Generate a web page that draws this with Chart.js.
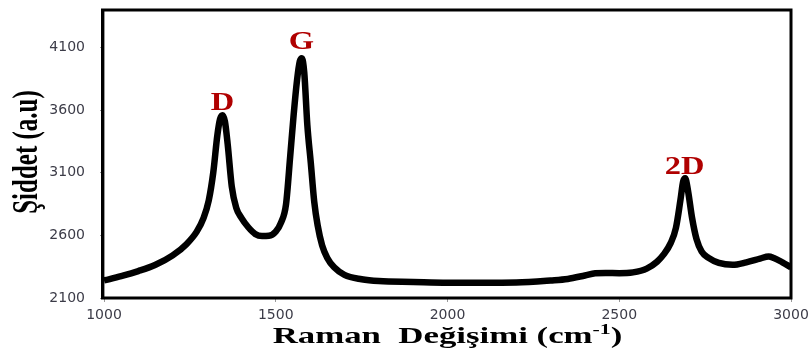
<!DOCTYPE html>
<html>
<head>
<meta charset="utf-8">
<script src="https://cdn.jsdelivr.net/npm/chart.js@4"></script>
<style>
  html, body { margin: 0; padding: 0; background: #fff; }
  #wrap { width: 811px; height: 349px; position: relative; }
</style>
</head>
<body>
<div id="wrap"><canvas id="raman"></canvas></div>
<script>
// Raman spectrum
const shift = [1000, 1050, 1100, 1150, 1200, 1240, 1270, 1290, 1305, 1318, 1330, 1338, 1345, 1352, 1360,
  1372, 1385, 1400, 1420, 1440, 1460, 1480, 1500, 1515, 1530, 1542, 1552, 1562, 1570, 1576, 1583, 1592,
  1602, 1612, 1622, 1635, 1650, 1670, 1700, 1750, 1800, 1900, 2000, 2100, 2200, 2300, 2350, 2400, 2430,
  2460, 2500, 2540, 2580, 2610, 2630, 2650, 2665, 2678, 2686, 2692, 2700, 2712, 2725, 2740, 2760, 2790,
  2830, 2870, 2910, 2935, 2950, 2975, 3000];
const intensity = [2240, 2275, 2315, 2365, 2440, 2530, 2630, 2740, 2880, 3100, 3400, 3530, 3560, 3510, 3330,
  2990, 2820, 2740, 2665, 2612, 2595, 2597, 2630, 2700, 2850, 3230, 3560, 3840, 3990, 4015, 3900, 3480,
  3180, 2870, 2680, 2520, 2420, 2345, 2285, 2250, 2235, 2228, 2222, 2222, 2224, 2240, 2252, 2280, 2298,
  2300, 2298, 2305, 2335, 2390, 2450, 2540, 2660, 2880, 3030, 3056, 2960, 2740, 2570, 2470, 2420, 2380,
  2365, 2385, 2415, 2432, 2420, 2385, 2345];

const peakNames = ['D', 'G', '2D'];
const peakShift = [1345, 1575, 2690];
const peakLabelLevel = [3600, 4090, 3090];

const xTicks = [1000, 1500, 2000, 2500, 3000];
const yTicks = [2100, 2600, 3100, 3600, 4100];

const xTitle = ['Raman  Değişimi (cm', '-1', ')'];
const yTitle = 'Şiddet (a.u)';

const SERIF = '"Liberation Serif", "Times New Roman", serif';
const STRETCH = 1.45;

// frame, axis titles and peak names
const decor = {
  id: 'decor',
  afterDraw(chart) {
    const { ctx, chartArea: a, scales } = chart;
    ctx.save();
    ctx.strokeStyle = '#000';
    ctx.lineWidth = 3;
    ctx.strokeRect(a.left - 1.5, a.top, a.right - a.left + 1.5, a.bottom - a.top);

    // peak names
    ctx.fillStyle = '#b00000';
    ctx.font = 'bold 25px ' + SERIF;
    ctx.textAlign = 'center';
    ctx.textBaseline = 'alphabetic';
    peakNames.forEach((name, i) => {
      const px = scales.x.getPixelForValue(peakShift[i]);
      const py = scales.y.getPixelForValue(peakLabelLevel[i]);
      ctx.save();
      ctx.translate(px, py);
      ctx.scale(1.3, 1);
      ctx.fillText(name, 0, 0);
      ctx.restore();
    });

    // x title with superscript
    ctx.fillStyle = '#000';
    ctx.textAlign = 'left';
    const big = 'bold 24px ' + SERIF, small = 'bold 15px ' + SERIF;
    ctx.font = big;
    const w0 = ctx.measureText(xTitle[0]).width;
    const w2 = ctx.measureText(xTitle[2]).width;
    ctx.font = small;
    const w1 = ctx.measureText(xTitle[1]).width;
    const total = w0 + w1 + w2;
    ctx.save();
    ctx.translate((a.left + a.right) / 2, 343);
    ctx.scale(STRETCH, 1);
    let x = -total / 2;
    ctx.font = big;
    ctx.fillText(xTitle[0], x, 0);
    x += w0;
    ctx.font = small;
    ctx.fillText(xTitle[1], x, -9);
    x += w1;
    ctx.font = big;
    ctx.fillText(xTitle[2], x, 0);
    ctx.restore();

    // y title
    ctx.save();
    ctx.translate(28, (a.top + a.bottom) / 2 - 2);
    ctx.scale(STRETCH, 1);
    ctx.rotate(-Math.PI / 2);
    ctx.font = 'bold 25px ' + SERIF;
    ctx.textAlign = 'center';
    ctx.textBaseline = 'middle';
    ctx.fillText(yTitle, 0, 0);
    ctx.restore();
    ctx.restore();
  }
};

const tickFont = { family: '"DejaVu Sans", Verdana, sans-serif', size: 14 };
const plain = v => String(v);

new Chart(document.getElementById('raman'), {
  type: 'line',
  data: {
    datasets: [{
      data: shift.map((s, i) => ({ x: s, y: intensity[i] })),
      borderColor: '#000',
      borderWidth: 6.5,
      pointRadius: 0,
      cubicInterpolationMode: 'monotone',
      fill: false
    }]
  },
  options: {
    responsive: true,
    maintainAspectRatio: false,
    animation: false,
    layout: { padding: { top: 10, right: 20, left: 0, bottom: 0 } },
    plugins: { legend: { display: false }, tooltip: { enabled: false } },
    scales: {
      x: {
        type: 'linear',
        min: 1000,
        max: 3000,
        afterBuildTicks: s => { s.ticks = xTicks.map(v => ({ value: v })); },
        afterFit: s => { s.height = 51; s.paddingLeft = 0; s.paddingRight = 0; },
        grid: { drawOnChartArea: false, color: '#9a9a9a', tickLength: 4 },
        border: { color: '#9a9a9a', width: 1 },
        ticks: { font: tickFont, color: '#3c3c48', padding: 5, maxRotation: 0, autoSkip: false, callback: plain }
      },
      y: {
        min: 2100,
        max: 4400,
        afterBuildTicks: s => { s.ticks = yTicks.map(v => ({ value: v })); },
        afterFit: s => { s.width = 104; s.paddingTop = 0; s.paddingBottom = 0; },
        grid: { drawOnChartArea: false, color: '#9a9a9a', tickLength: 4 },
        border: { color: '#9a9a9a', width: 1 },
        ticks: { font: tickFont, color: '#3c3c48', padding: 15, callback: plain }
      }
    }
  },
  plugins: [decor]
});
</script>
</body>
</html>
